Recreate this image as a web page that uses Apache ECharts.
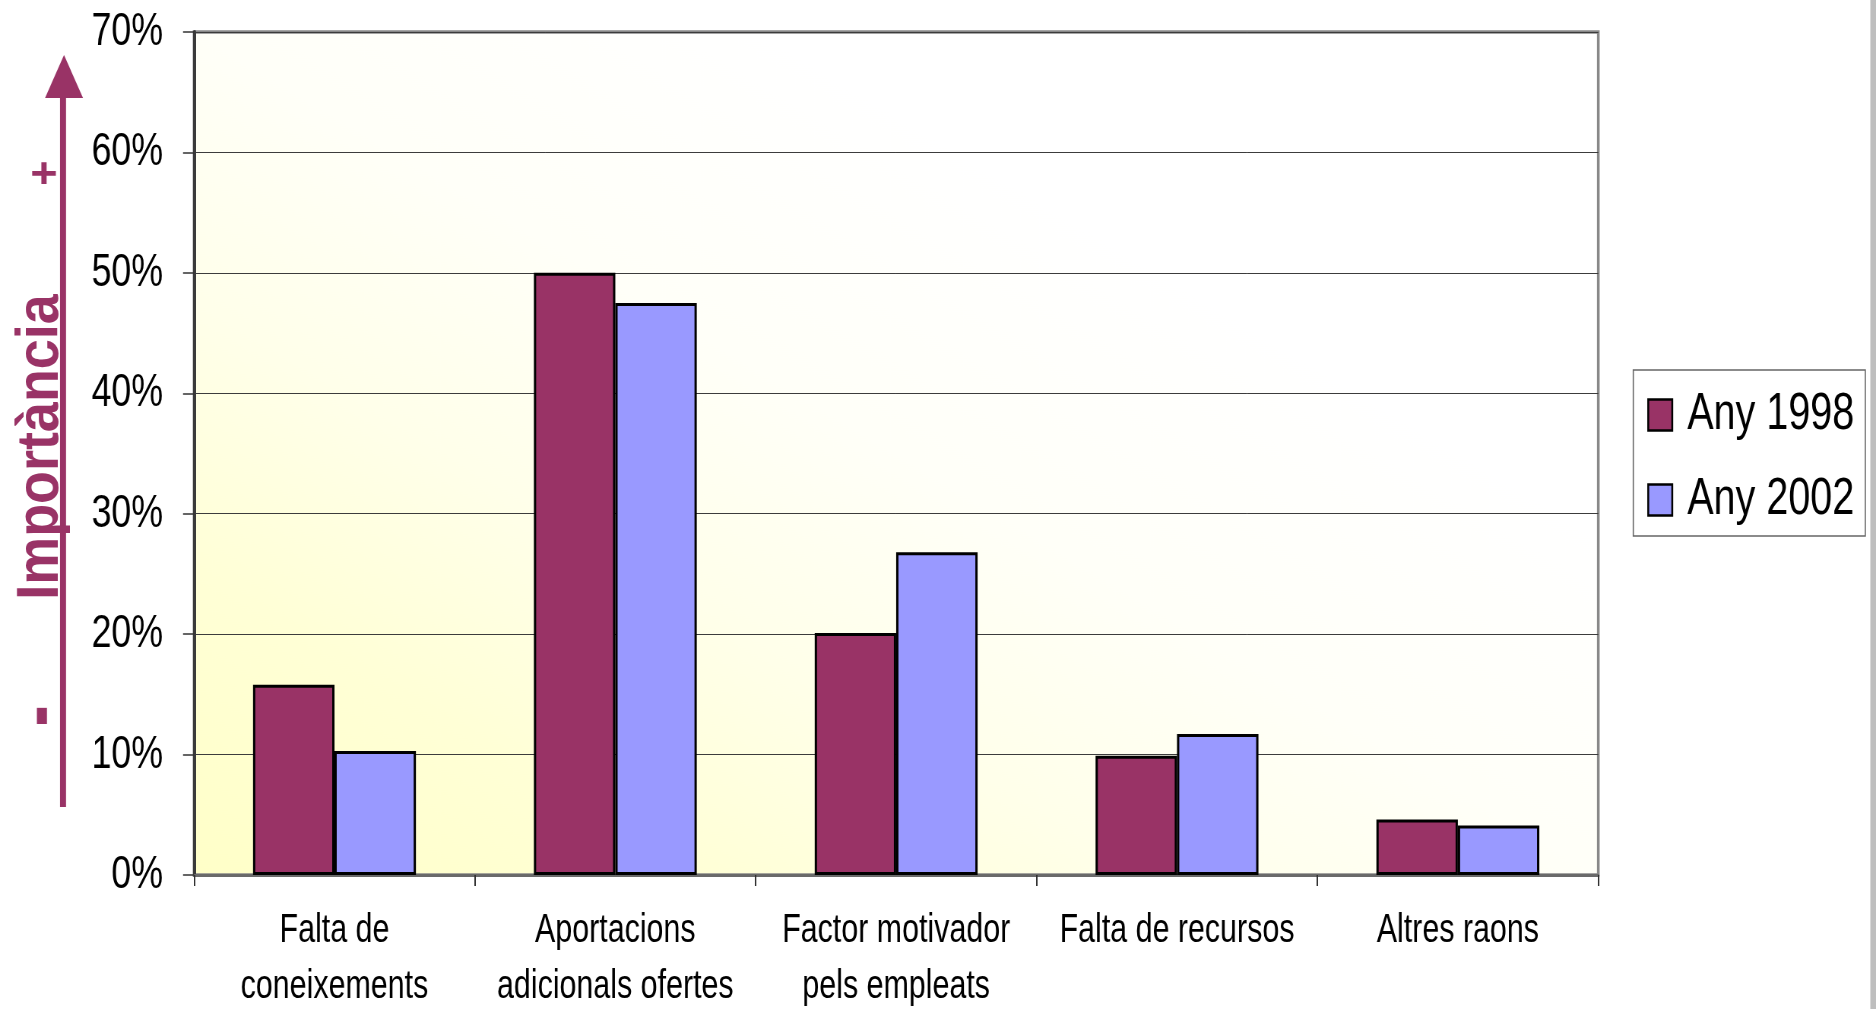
<!DOCTYPE html>
<html>
<head>
<meta charset="utf-8">
<script src="https://cdn.jsdelivr.net/npm/echarts@6/dist/echarts.min.js"></script>
<style>
html,body{margin:0;padding:0;background:#fff;overflow:hidden;width:1876px;height:1009px;}
#wrap{width:1876px;height:1009px;overflow:hidden;position:relative;}
#main{height:1009px;transform-origin:0 0;position:absolute;left:0;top:0;}
</style>
</head>
<body>
<div id="wrap"><div id="main"></div></div>
<script>
const categories = ['Falta de\nconeixements', 'Aportacions\nadicionals ofertes', 'Factor motivador\npels empleats', 'Falta de recursos', 'Altres raons'];
const seriesNames = ['Any 1998', 'Any 2002'];
const any1998 = [15.8, 50.0, 20.1, 9.9, 4.6];
const any2002 = [10.3, 47.5, 26.8, 11.7, 4.1];
const yMin = 0, yMax = 70, yStep = 10;
const axisTitle = 'Importància';

// The original picture is horizontally condensed; reproduce it by laying the
// chart out wider and squeezing the whole canvas horizontally.
const S = 0.76;
const PW = Math.round(1876 / S);
const px = v => v / S;
const el = document.getElementById('main');
el.style.width = PW + 'px';
el.style.transform = 'scaleX(' + (1876 / PW) + ')';

const FONT = "'Liberation Sans', Arial, sans-serif";
const chart = echarts.init(el, null, {renderer: 'canvas', width: PW, height: 1009});

const gL = px(194), gT = 32, gW = px(1404), gH = 843;
// diagonal gradient in box-normalised space: yellow bottom-left -> white top-right
const dx = gH, dy = -gW;
const k = (gH * gW) / (0.5 * (dx * dx + dy * dy));
const bg = new echarts.graphic.LinearGradient(gL, gT + gH, gL + k * dx, gT + gH + k * dy, [
  {offset: 0, color: '#FFFFC8'},
  {offset: 0.18, color: '#FFFFD6'},
  {offset: 0.34, color: '#FFFFEA'},
  {offset: 0.5, color: '#FFFFF8'},
  {offset: 0.7, color: '#FFFFFF'},
  {offset: 1, color: '#FFFFFF'}
], true);

const option = {
  animation: false,
  backgroundColor: '#ffffff',
  grid: {
    left: gL, top: gT, width: gW, height: gH,
    show: true, backgroundColor: bg, borderColor: '#888888', borderWidth: 3.5,
    containLabel: false,
    outerBoundsMode: 'none'
  },
  legend: {
    orient: 'vertical',
    left: px(1633), top: 370,
    padding: [19, px(11), 10, px(14)],
    itemGap: 33,
    itemWidth: px(24), itemHeight: 31,
    icon: 'rect',
    backgroundColor: '#ffffff',
    borderColor: '#666666', borderWidth: 1.6,
    itemStyle: {borderColor: '#000', borderWidth: 2.5},
    textStyle: {fontFamily: FONT, fontSize: 52, color: '#000', lineHeight: 50, padding: [0, 0, 0, px(15) - 5]},
    data: seriesNames
  },
  xAxis: {
    type: 'category',
    data: categories,
    axisLine: {show: true, lineStyle: {color: '#6a6a6a', width: 3}},
    axisTick: {show: true, length: 11, lineStyle: {color: '#333', width: 2}},
    axisLabel: {fontFamily: FONT, fontSize: 40, color: '#000', lineHeight: 56, margin: 28, interval: 0},
    splitLine: {show: false}
  },
  yAxis: {
    type: 'value',
    min: yMin, max: yMax, interval: yStep,
    axisLine: {show: true, lineStyle: {color: '#3a3a3a', width: 4}},
    axisTick: {show: true, length: px(11), lineStyle: {color: '#333', width: 1.5}},
    axisLabel: {fontFamily: FONT, fontSize: 47, color: '#000', margin: px(31), formatter: '{value}%'},
    splitLine: {show: true, lineStyle: {color: '#3c3c3c', width: 1}}
  },
  series: [
    {
      name: seriesNames[0], type: 'bar', data: any1998,
      barGap: '0%', barCategoryGap: '42%',
      itemStyle: {color: '#993366', borderColor: '#000', borderWidth: 3}
    },
    {
      name: seriesNames[1], type: 'bar', data: any2002,
      barGap: '0%', barCategoryGap: '42%',
      itemStyle: {color: '#9999FF', borderColor: '#000', borderWidth: 3}
    }
  ],
  graphic: [
    {type: 'rect', shape: {x: px(1870), y: 0, width: px(8), height: 1009}, style: {fill: '#BEBEBE'}, silent: true},
    {type: 'line', shape: {x1: px(63), y1: 807, x2: px(63), y2: 95}, style: {stroke: '#993366', lineWidth: px(6)}, silent: true},
    {type: 'polygon', shape: {points: [[px(64), 55], [px(45), 98], [px(83), 98]]}, style: {fill: '#993366'}, silent: true},
    {type: 'text', x: px(42), y: 447, rotation: Math.PI / 2, scaleX: 0.7,
      style: {text: axisTitle, font: "bold 77px " + FONT, fill: '#993366', align: 'center', verticalAlign: 'middle'}, silent: true},
    {type: 'text', x: px(44), y: 175, scaleY: 0.7,
      style: {text: '+', font: "bold 62px " + FONT, fill: '#993366', align: 'center', verticalAlign: 'middle'}, silent: true},
    {type: 'text', x: px(42), y: 714, scaleY: 2.6,
      style: {text: '-', font: "bold 52px " + FONT, fill: '#993366', align: 'center', verticalAlign: 'middle'}, silent: true}
  ]
};
chart.setOption(option);
</script>
</body>
</html>
